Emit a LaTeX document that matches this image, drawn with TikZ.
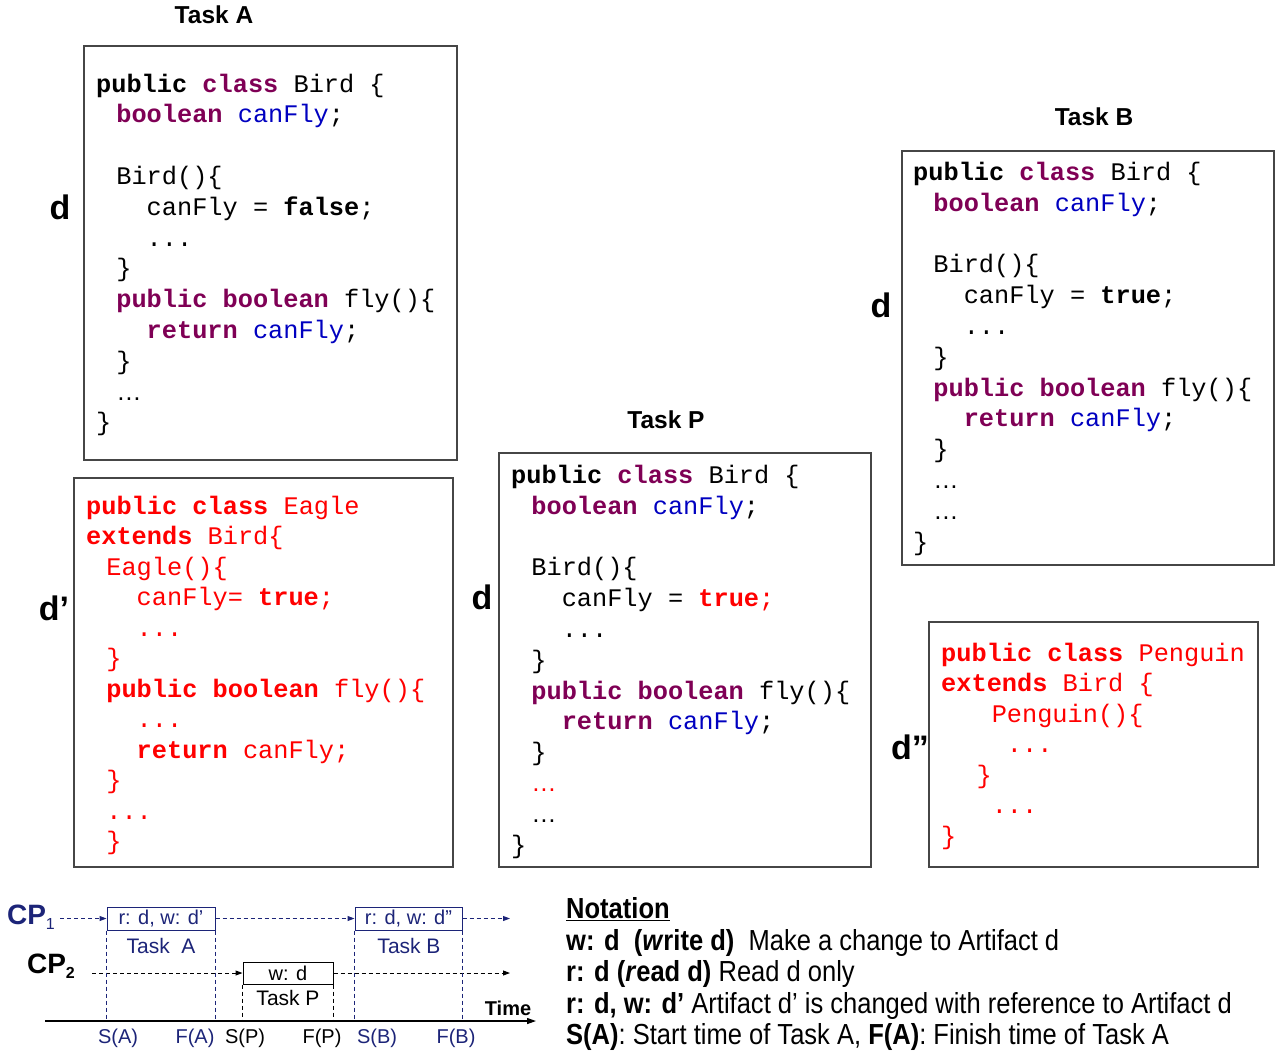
\documentclass[tikz,border=0pt]{standalone}
\usepackage{fontspec}
\setmainfont{Liberation Sans}
\newfontfamily\codefont{Liberation Mono}
\newfontfamily\narrowfont[FakeStretch=0.88]{Liberation Sans}
\usetikzlibrary{arrows.meta}
\definecolor{kwp}{RGB}{127,0,85}
\definecolor{fblue}{RGB}{0,0,192}
\definecolor{navy}{RGB}{28,36,120}
\definecolor{boxgray}{RGB}{70,70,70}
\newcommand\kw[1]{{\bfseries\color{kwp}#1}}
\newcommand\bk[1]{{\bfseries #1}}
\newcommand\fl[1]{{\color{fblue}#1}}
\newcommand\ellip{{\rmfamily …}}
\newcommand\tdots{.{}.{}.}
% indentation: n code cells plus a small constant offset
\newcommand\ind[1]{\hspace*{\dimexpr #1\fontcharwd\font`x + 5pt\relax}}
% name, x, first baseline, step, style, list
\newcommand\codeblock[6]{%
  \foreach \cl [count=\ci] in {#6}{%
    \node[code,#5,anchor=base west] (#1\ci) at (#2,{#3+(\ci-1)*#4}) {\cl};}}
\begin{document}
\begin{tikzpicture}[x=1pt,y=-1pt,
  code/.style={inner sep=0pt, font=\codefont\fontsize{25.3}{30}\selectfont},
  cbox/.style={draw=boxgray, line width=1.2pt, inner sep=0pt},
  head/.style={font=\bfseries\fontsize{24.5}{28}\selectfont, inner sep=0pt},
  dlab/.style={font=\bfseries\fontsize{34}{40}\selectfont, inner sep=0pt},
  tlbox/.style={draw, line width=1pt, inner sep=0pt, fill=white, font=\fontsize{20}{24}\selectfont},
  tltext/.style={font=\fontsize{21}{24}\selectfont, inner sep=0pt},
  tldash/.style={line width=1pt, dash pattern=on 4pt off 3pt},
  tlarrow/.style={-{Triangle[length=7pt,width=5pt]}},
  tick/.style={font=\fontsize{20}{24}\selectfont, inner sep=0pt},
  note/.style={font=\narrowfont\fontsize{29}{31}\selectfont, anchor=base west, inner sep=0pt}
]
\useasboundingbox (0,0) rectangle (1284,1053);

% ---------- code boxes ----------
\node[cbox, minimum width=373pt, minimum height=414pt] (boxA) at (270.5,253) {};
\node[cbox, minimum width=379pt, minimum height=389pt] (boxE) at (263.5,672.5) {};
\node[cbox, minimum width=372pt, minimum height=414pt] (boxP) at (685,660) {};
\node[cbox, minimum width=372pt, minimum height=414pt] (boxB) at (1088,358) {};
\node[cbox, minimum width=329pt, minimum height=245pt] (boxG) at (1093.5,744.5) {};

% headings and labels
\node[head] (hA) at (214,15) {Task A};
\node[head] (hB) at (1094,117) {Task B};
\node[head] (hP) at (666,420) {Task P};
\node[dlab] (dA) at (60,207) {d};
\node[dlab] (dE) at (54,608) {d’};
\node[dlab] (dP) at (482,597) {d};
\node[dlab] (dB) at (881,305) {d};
\node[dlab] (dG) at (910,747) {d”};

% Task A
\codeblock{A}{96}{92}{30.8}{}{%
 {\bk{public} \kw{class} Bird \{},
 {\ind1\kw{boolean} \fl{canFly};},
 {},
 {\ind1Bird()\{},
 {\ind3canFly = \bk{false};},
 {\ind3\tdots},
 {\ind1\}},
 {\ind1\kw{public boolean} fly()\{},
 {\ind3\kw{return} \fl{canFly};},
 {\ind1\}},
 {\ind1\ellip},
 {\}}}

% Eagle
\codeblock{E}{86}{514}{30.5}{text=red}{%
 {\bk{public class} Eagle},
 {\bk{extends} Bird\{},
 {\ind1Eagle()\{},
 {\ind3canFly= \bk{true};},
 {\ind3\tdots},
 {\ind1\}},
 {\ind1\bk{public boolean} fly()\{},
 {\ind3\tdots},
 {\ind3\bk{return} canFly;},
 {\ind1\}},
 {\ind1\tdots},
 {\ind1\}}}

% Task P
\codeblock{P}{511}{483.5}{30.8}{}{%
 {\bk{public} \kw{class} Bird \{},
 {\ind1\kw{boolean} \fl{canFly};},
 {},
 {\ind1Bird()\{},
 {\ind3canFly = {\color{red}\bk{true};}},
 {\ind3\tdots},
 {\ind1\}},
 {\ind1\kw{public boolean} fly()\{},
 {\ind3\kw{return} \fl{canFly};},
 {\ind1\}},
 {\ind1{\color{red}\ellip}},
 {\ind1\ellip},
 {\}}}

% Task B
\codeblock{B}{913}{180.5}{30.8}{}{%
 {\bk{public} \kw{class} Bird \{},
 {\ind1\kw{boolean} \fl{canFly};},
 {},
 {\ind1Bird()\{},
 {\ind3canFly = \bk{true};},
 {\ind3\tdots},
 {\ind1\}},
 {\ind1\kw{public boolean} fly()\{},
 {\ind3\kw{return} \fl{canFly};},
 {\ind1\}},
 {\ind1\ellip},
 {\ind1\ellip},
 {\}}}

% Penguin
\codeblock{G}{941}{661}{30.5}{text=red}{%
 {\bk{public class} Penguin},
 {\bk{extends} Bird \{},
 {\ind3Penguin()\{},
 {\ind4\tdots},
 {\ind2\}},
 {\ind3\tdots},
 {\}}}

% ---------- timeline ----------
\node[font=\bfseries\fontsize{28}{30}\selectfont, text=navy, inner sep=0pt] (cp1) at (31,917)
  {CP\raisebox{-5pt}{\mdseries\fontsize{16}{16}\selectfont 1}};
\node[font=\bfseries\fontsize{28}{30}\selectfont, inner sep=0pt] (cp2) at (51,966)
  {CP\raisebox{-5pt}{\fontsize{16}{16}\selectfont 2}};

\node[tlbox, draw=navy, text=navy, minimum width=108pt, minimum height=23pt] (bA) at (161,918.5) {r: d, w: d’};
\node[tltext, text=navy] (tA) at (161,946) {Task\ \ A};
\node[tlbox, draw=navy, text=navy, minimum width=107pt, minimum height=23pt] (bB) at (408.5,918.5) {r: d, w: d”};
\node[tltext, text=navy] (tB) at (409,946) {Task B};
\node[tlbox, minimum width=90pt, minimum height=22pt] (bP) at (288,973) {w: d};
\node[tltext] (tP) at (288,998) {Task P};

\coordinate (c1s) at (60,918.5);
\coordinate (c1e) at (510,918.5);
\coordinate (c2s) at (92,973);
\coordinate (c2e) at (510,973);
\draw[tldash, navy, tlarrow] (c1s) -- (bA.west);
\draw[tldash, navy, tlarrow] (bA.east) -- (bB.west);
\draw[tldash, navy, tlarrow] (bB.east) -- (c1e);
\draw[tldash, tlarrow] (c2s) -- (bP.west);
\draw[tldash, tlarrow] (bP.east) -- (c2e);

\coordinate (ax0) at (45,1021);
\coordinate (ax1) at (536,1021);
\draw[line width=1.2pt, -{Triangle[length=9pt,width=6pt]}] (ax0) -- (ax1);

\draw[tldash, navy] (bA.south west) -- (bA.south west |- ax0);
\draw[tldash, navy] (bA.south east) -- (bA.south east |- ax0);
\draw[tldash, navy] (bB.south west) -- (bB.south west |- ax0);
\draw[tldash, navy] (bB.south east) -- (bB.south east |- ax0);
\draw[tldash] (bP.south west) -- (bP.south west |- ax0);
\draw[tldash] (bP.south east) -- (bP.south east |- ax0);

\node[font=\bfseries\fontsize{20}{24}\selectfont, inner sep=0pt] (time) at (508,1008) {Time};
\node[tick, text=navy] (sA) at (118,1038) {S(A)};
\node[tick, text=navy] (fA) at (195,1038) {F(A)};
\node[tick] (sP) at (245,1038) {S(P)};
\node[tick] (fP) at (322,1038) {F(P)};
\node[tick, text=navy] (sB) at (377,1038) {S(B)};
\node[tick, text=navy] (fB) at (456,1038) {F(B)};

% ---------- notation ----------
\node[note] (n0) at (566,918) {\bfseries\underline{Notation}};
\node[note] (n1) at (566,950) {{\bfseries w: d\ \ (\textit{w}rite d)}\ \ Make a change to Artifact d};
\node[note] (n2) at (566,981) {{\bfseries r: d (\textit{r}ead d)} Read d only};
\node[note] (n3) at (566,1013) {{\bfseries r: d, w: d’}\ Artifact d’\ is changed with reference to Artifact d};
\node[note] (n4) at (566,1044) {{\bfseries S(A)}: Start time of Task A, {\bfseries F(A)}: Finish time of Task A};
\end{tikzpicture}
\end{document}
